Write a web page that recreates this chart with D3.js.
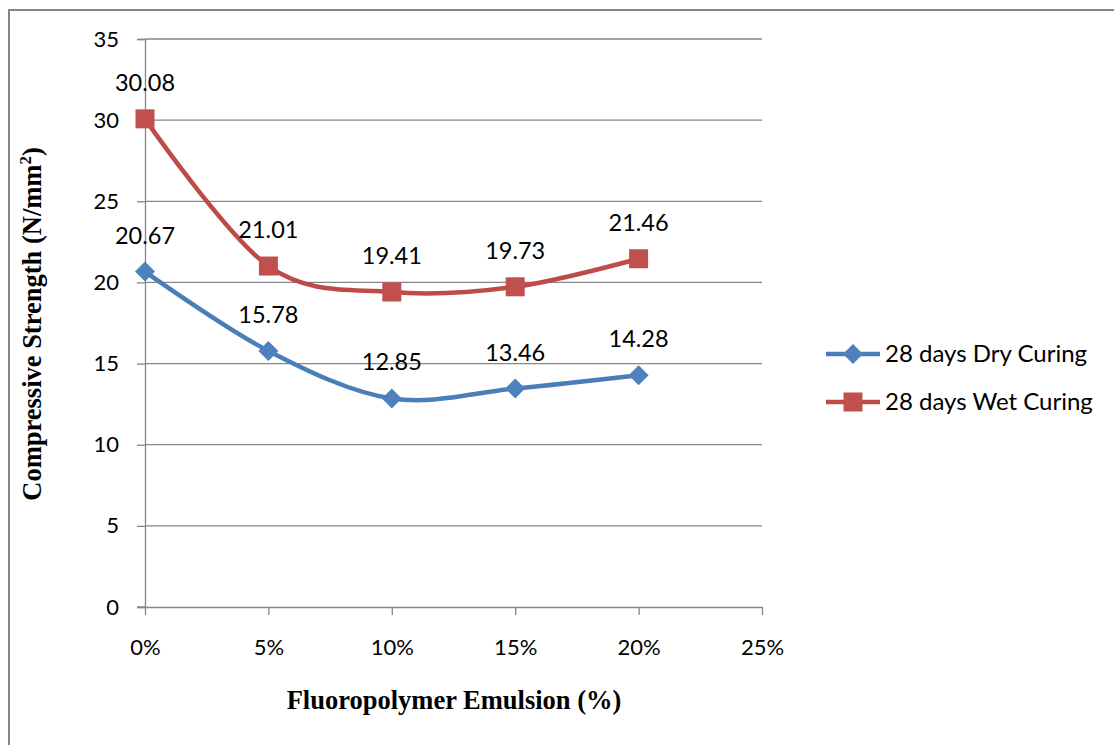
<!DOCTYPE html>
<html>
<head>
<meta charset="utf-8">
<script src="https://cdn.jsdelivr.net/npm/d3@7/dist/d3.min.js"></script>
<style>
  html, body { margin: 0; padding: 0; background: #fff; }
  svg { display: block; }
</style>
</head>
<body>
<svg id="chart" width="1114" height="745"></svg>
<script>
// Fluoropolymer emulsion dosage (%) and 28-day compressive strengths (N/mm²)
const dosage = [0, 5, 10, 15, 20];
const dryCuring = [20.67, 15.78, 12.85, 13.46, 14.28];
const wetCuring = [30.08, 21.01, 19.41, 19.73, 21.46];
const seriesNames = ["28 days Dry Curing", "28 days Wet Curing"];
const xTicks = [0, 5, 10, 15, 20, 25];
const yTicks = [0, 5, 10, 15, 20, 25, 30, 35];

const svg = d3.select("#chart");
const W = 1114, H = 745;
const plot = { left: 145, right: 762, top: 39, bottom: 607 };

const gridColor = "#868686";
const labelFont = "Lato, 'Open Sans', sans-serif";
const titleFont = "'Liberation Serif', 'Times New Roman', serif";

const x = d3.scaleLinear().domain([0, 25]).range([plot.left, plot.right]);
const y = d3.scaleLinear().domain([0, 35]).range([plot.bottom, plot.top]);

// outer chart frame (runs off the right and bottom edges)
svg.append("rect")
  .attr("x", 9).attr("y", 10)
  .attr("width", W + 20).attr("height", H + 20)
  .attr("fill", "none").attr("stroke", gridColor).attr("stroke-width", 2);

// horizontal gridlines
svg.append("g")
  .selectAll("line")
  .data(yTicks.filter(v => v > 0))
  .join("line")
  .attr("x1", plot.left).attr("x2", plot.right)
  .attr("y1", d => y(d)).attr("y2", d => y(d))
  .attr("stroke", gridColor).attr("stroke-width", 1.3);

// y axis
const yAxis = svg.append("g")
  .attr("transform", `translate(${plot.left},0)`)
  .call(d3.axisLeft(y).tickValues(yTicks).tickSize(8).tickPadding(18).tickFormat(d3.format("d")));
yAxis.select(".domain").attr("stroke", gridColor).attr("stroke-width", 1.3);
yAxis.selectAll(".tick line").attr("stroke", gridColor).attr("stroke-width", 1.3);
yAxis.selectAll(".tick text")
  .attr("font-family", labelFont).attr("font-size", 22).attr("fill", "#000");

// x axis
const xAxis = svg.append("g")
  .attr("transform", `translate(0,${plot.bottom})`)
  .call(d3.axisBottom(x).tickValues(xTicks).tickSize(8).tickSizeOuter(0).tickPadding(24).tickFormat(d => d + "%"));
xAxis.select(".domain").attr("stroke", gridColor).attr("stroke-width", 1.3);
xAxis.selectAll(".tick line").attr("stroke", gridColor).attr("stroke-width", 1.3);
xAxis.selectAll(".tick text")
  .attr("font-family", labelFont).attr("font-size", 22).attr("fill", "#000");
// extend the baseline left to meet the y tick marks
svg.append("line")
  .attr("x1", plot.left - 8).attr("x2", plot.left)
  .attr("y1", plot.bottom).attr("y2", plot.bottom)
  .attr("stroke", gridColor).attr("stroke-width", 1.3);

// axis titles
svg.append("text")
  .attr("x", 454).attr("y", 709)
  .attr("text-anchor", "middle")
  .attr("font-family", titleFont).attr("font-weight", "bold").attr("font-size", 26.5)
  .text("Fluoropolymer Emulsion (%)");

const yTitle = svg.append("text")
  .attr("transform", "translate(41,324) rotate(-90)")
  .attr("text-anchor", "middle")
  .attr("font-family", titleFont).attr("font-weight", "bold").attr("font-size", 26.5);
yTitle.append("tspan").text("Compressive Strength (N/mm");
yTitle.append("tspan").attr("dy", -10).attr("font-size", 17).text("2");
yTitle.append("tspan").attr("dy", 10).text(")");

// series
const series = [
  { name: seriesNames[0], values: dryCuring, line: "#4A7EBB", fill: "#4F81BD", shape: "diamond" },
  { name: seriesNames[1], values: wetCuring, line: "#BE4B48", fill: "#C0504D", shape: "square" }
];

const lineGen = d3.line()
  .x(d => x(d[0])).y(d => y(d[1]))
  .curve(d3.curveCatmullRom.alpha(0));

function marker(sel, shape, color) {
  if (shape === "square") {
    sel.append("rect")
      .attr("x", -9.5).attr("y", -9.5).attr("width", 19).attr("height", 19)
      .attr("fill", color);
  } else {
    sel.append("path")
      .attr("d", "M0,-10L10,0L0,10L-10,0Z")
      .attr("fill", color);
  }
}

series.forEach(s => {
  const pts = dosage.map((d, i) => [d, s.values[i]]);
  svg.append("path")
    .datum(pts)
    .attr("d", lineGen)
    .attr("fill", "none")
    .attr("stroke", s.line)
    .attr("stroke-width", 4.5)
    .attr("stroke-linejoin", "round");

  svg.append("g").selectAll("g")
    .data(pts)
    .join("g")
    .attr("transform", d => `translate(${x(d[0])},${y(d[1])})`)
    .each(function () { marker(d3.select(this), s.shape, s.fill); });
});

// data labels above each point
series.forEach(s => {
  svg.append("g").selectAll("text")
    .data(dosage.map((d, i) => [d, s.values[i]]))
    .join("text")
    .attr("x", d => x(d[0]))
    .attr("y", d => y(d[1]) - 28)
    .attr("text-anchor", "middle")
    .attr("font-family", labelFont).attr("font-size", 23.5).attr("fill", "#000")
    .text(d => d3.format(".2f")(d[1]));
});

// legend
const legend = svg.append("g");
series.forEach((s, i) => {
  const g = legend.append("g").attr("transform", `translate(826,${354 + i * 48})`);
  g.append("line").attr("x1", 0).attr("x2", 54).attr("y1", 0).attr("y2", 0)
    .attr("stroke", s.line).attr("stroke-width", 4.5);
  const m = g.append("g").attr("transform", "translate(27,0)");
  marker(m, s.shape, s.fill);
  g.append("text").attr("x", 59).attr("y", 0).attr("dy", "0.35em")
    .attr("font-family", labelFont).attr("font-size", 24).attr("fill", "#000")
    .text(s.name);
});
</script>
</body>
</html>
